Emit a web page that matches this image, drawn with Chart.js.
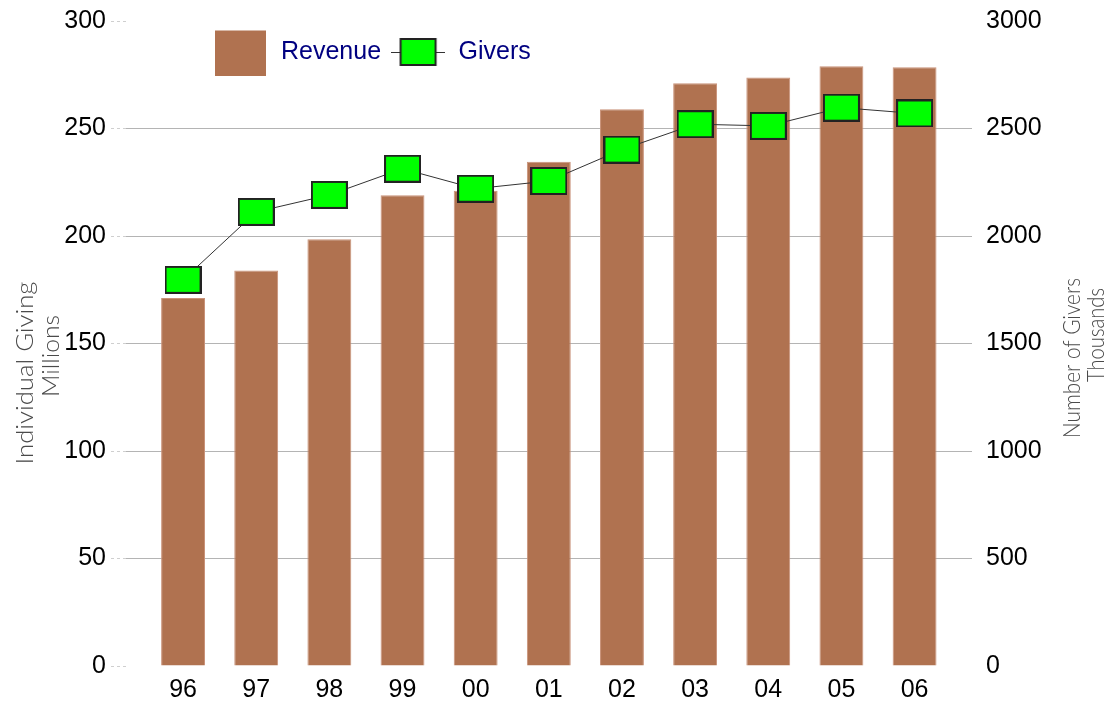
<!DOCTYPE html>
<html>
<head>
<meta charset="utf-8">
<title>Individual Giving</title>
<script src="https://cdn.jsdelivr.net/npm/chart.js@4.4.1/dist/chart.umd.min.js"></script>
<style>
    html, body { margin: 0; padding: 0; background: #fff; }
    .chart-wrapper { position: relative; width: 1118px; height: 704px; }
</style>
</head>
<body>
<div class="chart-wrapper"><canvas id="givingChart"></canvas></div>
<script>
var years = ['96', '97', '98', '99', '00', '01', '02', '03', '04', '05', '06'];
var revenue = [171.2, 183.9, 198.5, 219.0, 221.0, 234.5, 259.0, 271.1, 273.7, 278.9, 278.5];
var givers = [1796, 2112, 2191, 2313, 2220, 2256, 2402, 2520, 2512, 2597, 2570];
var leftTitle = ['Individual Giving', 'Millions'];
var rightTitle = ['Number of Givers', 'Thousands'];

var tickFont = { family: "Arial, 'Liberation Sans', sans-serif", size: 25 };
var barColor = '#b07250';

// little canvases used as point styles (the markers are not square)
var makeMarker = function (withLine) {
    var c = document.createElement('canvas');
    c.width = withLine ? 54 : 37;
    c.height = 28;
    var ctx = c.getContext('2d');
    var x0 = withLine ? 9.5 : 1;
    if (withLine) {
        ctx.strokeStyle = '#333';
        ctx.lineWidth = 1;
        ctx.beginPath();
        ctx.moveTo(0, 14.5);
        ctx.lineTo(54, 14.5);
        ctx.stroke();
    }
    ctx.fillStyle = '#00ff00';
    ctx.fillRect(x0, 1, 35, 26);
    ctx.strokeStyle = '#222';
    ctx.lineWidth = 2;
    ctx.strokeRect(x0, 1, 35, 26);
    return c;
};

var makeSwatch = function () {
    var c = document.createElement('canvas');
    c.width = 51;
    c.height = 48;
    var ctx = c.getContext('2d');
    ctx.fillStyle = barColor;
    ctx.fillRect(0, 0, 51, 48);
    return c;
};

var legendIcons = [makeSwatch(), makeMarker(true)];

var toPoints = function (values) {
    return values.map(function (v, i) { return { x: i, y: v }; });
};

// legend sits inside the plot, over the empty top-left corner
var legendPlacer = {
    id: 'legendPlacer',
    afterLayout: function (chart) {
        var lg = chart.legend;
        lg.left = 203.5;
        lg.top = 30.5;
        lg.right = 700;
        lg.bottom = 90;
        lg.width = lg.right - lg.left;
        lg.height = lg.bottom - lg.top;
    }
};

var axisTitles = {
    id: 'axisTitles',
    afterDraw: function (chart) {
        var ctx = chart.ctx;
        var put = function (text, baseX, centerY, len) {
            ctx.save();
            ctx.translate(baseX, centerY);
            ctx.rotate(-Math.PI / 2);
            ctx.scale(len / ctx.measureText(text).width, 1);
            ctx.textAlign = 'center';
            ctx.textBaseline = 'alphabetic';
            ctx.fillText(text, 0, 0);
            ctx.restore();
        };
        ctx.save();
        ctx.font = "300 23px Lato, 'DejaVu Sans', sans-serif";
        ctx.fillStyle = '#4a4a4a';
        put(leftTitle[0], 33, 373, 183);
        put(leftTitle[1], 59, 356, 82);
        put(rightTitle[0], 1080, 358, 160);
        put(rightTitle[1], 1104, 335, 94);
        ctx.restore();
    }
};

var ctx = document.getElementById('givingChart').getContext('2d');
new Chart(ctx, {
    type: 'bar',
    data: {
        datasets: [{
            type: 'line',
            label: 'Givers',
            data: toPoints(givers),
            yAxisID: 'y1',
            borderColor: '#333',
            borderWidth: 1,
            pointStyle: makeMarker(false),
            pointRadius: 14,
            order: 1
        }, {
            type: 'bar',
            label: 'Revenue',
            data: toPoints(revenue),
            yAxisID: 'y',
            backgroundColor: barColor,
            borderColor: '#c99279',
            borderWidth: 1,
            barPercentage: 0.6,
            categoryPercentage: 1,
            order: 2
        }]
    },
    options: {
        responsive: true,
        maintainAspectRatio: false,
        animation: false,
        layout: { padding: { top: 19, bottom: 0, left: 0, right: 0 } },
        plugins: {
            tooltip: { enabled: false },
            legend: {
                position: 'top',
                align: 'start',
                maxHeight: 1,
                reverse: true,
                labels: {
                    usePointStyle: true,
                    pointStyleWidth: 56,
                    padding: 9,
                    color: '#000080',
                    font: tickFont,
                    generateLabels: function (chart) {
                        var items = Chart.defaults.plugins.legend.labels.generateLabels(chart);
                        items.forEach(function (item) {
                            item.pointStyle = item.text === 'Revenue' ? legendIcons[0] : legendIcons[1];
                        });
                        return items;
                    }
                }
            }
        },
        scales: {
            x: {
                type: 'linear',
                offset: false,
                min: -0.78,
                max: 10.785,
                afterBuildTicks: function (scale) {
                    scale.ticks = years.map(function (y, i) { return { value: i }; });
                },
                afterFit: function (scale) { scale.height = 38; },
                ticks: {
                    color: '#000',
                    font: tickFont,
                    padding: 9,
                    maxRotation: 0,
                    callback: function (value) { return years[value]; }
                },
                grid: { display: false, drawTicks: false, offset: false },
                border: { display: false }
            },
            y: {
                position: 'left',
                min: 0,
                max: 300,
                afterFit: function (scale) { scale.width = 126; },
                ticks: { stepSize: 50, color: '#000', font: tickFont, padding: 5 },
                grid: {
                    color: function (c) {
                        return (c.tick && (c.tick.value === 0 || c.tick.value === 300)) ? 'rgba(0,0,0,0)' : '#b4b4b4';
                    },
                    lineWidth: 1,
                    tickLength: 15,
                    tickColor: '#cfcfcf',
                    tickBorderDash: [3, 3]
                },
                border: { display: false }
            },
            y1: {
                position: 'right',
                min: 0,
                max: 3000,
                afterFit: function (scale) { scale.width = 146; },
                ticks: {
                    stepSize: 500,
                    color: '#000',
                    font: tickFont,
                    padding: 6,
                    callback: function (value) { return String(value); }
                },
                grid: { display: false, drawOnChartArea: false },
                border: { display: false }
            }
        }
    },
    plugins: [legendPlacer, axisTitles]
});
</script>
</body>
</html>
